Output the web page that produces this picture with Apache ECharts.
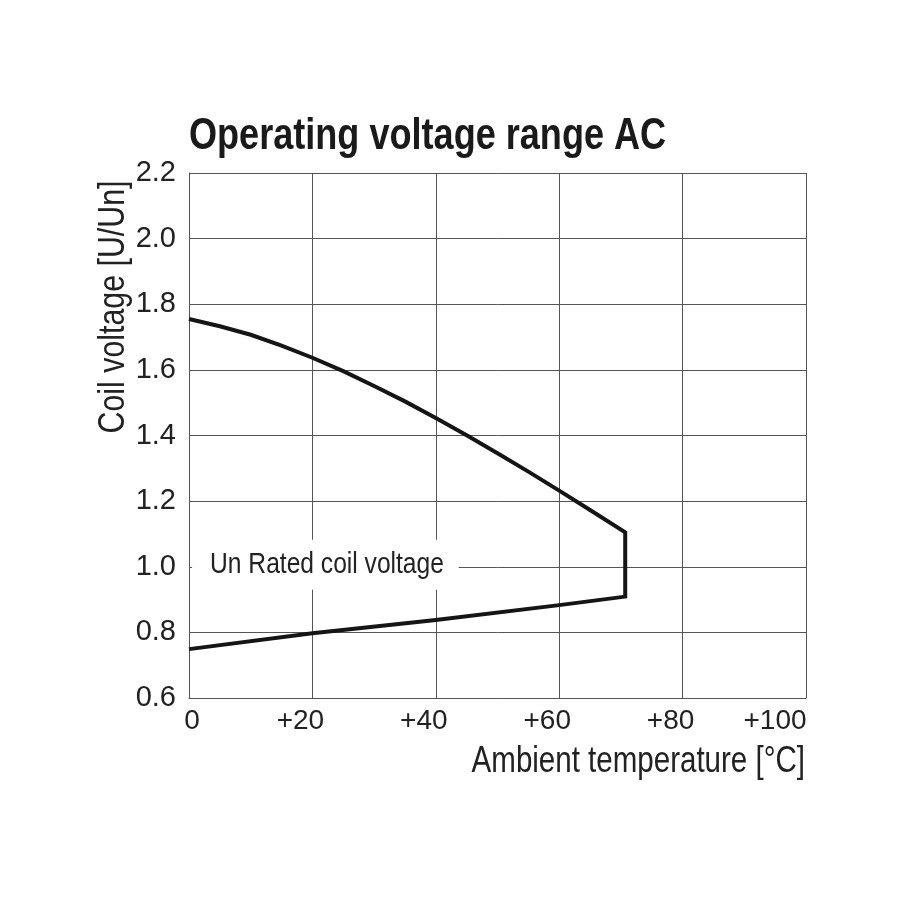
<!DOCTYPE html>
<html>
<head>
<meta charset="utf-8">
<script src="https://cdn.jsdelivr.net/npm/echarts@6/dist/echarts.min.js"></script>
<style>
html,body{margin:0;padding:0;background:#fff;}
#chart{width:900px;height:900px;}
</style>
</head>
<body>
<div id="chart"></div>
<script>
// Data
const upperTemp = [0, 5, 10, 15, 20, 25, 30, 35, 40, 45, 50, 55, 60, 65, 70.7];
const upperVolt = [1.755, 1.733, 1.707, 1.674, 1.637, 1.596, 1.551, 1.504, 1.453, 1.401, 1.346, 1.290, 1.232, 1.173, 1.105];
const lowerTemp = [70.7, 60, 40, 20, 0];
const lowerVolt = [0.909, 0.883, 0.838, 0.797, 0.749];
const xTickLabels = ['0', '+20', '+40', '+60', '+80', '+100'];
const yTickLabels = ['0.6', '0.8', '1.0', '1.2', '1.4', '1.6', '1.8', '2.0', '2.2'];
const titleText = 'Operating voltage range AC';
const xAxisName = 'Ambient temperature [°C]';
const yAxisName = 'Coil voltage [U/Un]';
const ratedLabel = 'Un Rated coil voltage';
const ratedPoint = [22.1, 1.0];

const FONT = '"Liberation Sans Narrow", "Liberation Sans", Arial, sans-serif';
const SQUEEZE = 0.82;
const chart = echarts.init(document.getElementById('chart'), null, {renderer: 'canvas'});

const curve = upperTemp.map((t, i) => [t, upperVolt[i]])
  .concat(lowerTemp.map((t, i) => [t, lowerVolt[i]]));

const labelRich = {
  a: {fontFamily: FONT, fontSize: 28, color: '#222', padding: [0, 0, 0, 6]},
  b: {fontFamily: FONT, fontSize: 28, color: '#222', padding: [0, 24, 0, 0]},
  c: {fontFamily: FONT, fontSize: 28, color: '#222', padding: [0, 62, 0, 0]}
};

chart.setOption({
  backgroundColor: '#ffffff',
  animation: false,
  grid: {left: 189, right: 94, top: 173, bottom: 202, containLabel: false},
  xAxis: {
    type: 'value', min: 0, max: 100, interval: 20,
    axisLine: {show: true, lineStyle: {color: '#555', width: 1}},
    axisTick: {show: false},
    splitLine: {show: true, lineStyle: {color: '#555', width: 1}},
    axisLabel: {
      margin: 9,
      fontFamily: FONT, fontSize: 28, color: '#222',
      formatter: function (v) {
        const lab = xTickLabels[Math.round(v / 20)];
        if (v === 0) return '{a|' + lab + '}';
        if (v === 100) return '{c|' + lab + '}';
        return '{b|' + lab + '}';
      },
      rich: labelRich
    }
  },
  yAxis: {
    type: 'value', min: 0.6, max: 2.2, interval: 0.2,
    axisLine: {show: true, lineStyle: {color: '#555', width: 1}},
    axisTick: {show: false},
    splitLine: {show: true, lineStyle: {color: '#555', width: 1}},
    axisLabel: {
      margin: 13,
      fontFamily: FONT, fontSize: 29, color: '#222',
      formatter: function (v) {
        return yTickLabels[Math.round((v - 0.6) / 0.2)];
      }
    }
  },
  series: [
    {
      type: 'line',
      data: curve,
      showSymbol: false,
      symbol: 'none',
      smooth: false,
      lineStyle: {color: '#151515', width: 4, join: 'miter', cap: 'butt'},
      z: 3
    }
  ]
});

const rp = chart.convertToPixel({gridIndex: 0}, ratedPoint);

chart.setOption({
  graphic: [
    {
      type: 'text',
      x: 189, y: 115,
      scaleX: SQUEEZE,
      style: {text: titleText, fontFamily: FONT, fontWeight: 'bold', fontSize: 44, fill: '#1a1a1a', textAlign: 'left', textVerticalAlign: 'top'}
    },
    {
      type: 'text',
      x: 805, y: 744,
      scaleX: SQUEEZE,
      style: {text: xAxisName, fontFamily: FONT, fontSize: 36, fill: '#222', textAlign: 'right', textVerticalAlign: 'top'}
    },
    {
      type: 'text',
      x: 114, y: 307,
      rotation: Math.PI / 2,
      scaleX: SQUEEZE,
      style: {text: yAxisName, fontFamily: FONT, fontSize: 37, fill: '#222', textAlign: 'center', textVerticalAlign: 'middle'}
    },
    {
      type: 'text',
      x: rp[0], y: rp[1] - 2,
      scaleX: SQUEEZE,
      z: 10,
      style: {
        text: ratedLabel, fontFamily: FONT, fontSize: 30, fill: '#222',
        textAlign: 'center', textVerticalAlign: 'middle',
        backgroundColor: '#ffffff', padding: [10, 18, 10, 22]
      }
    }
  ]
});
</script>
</body>
</html>
